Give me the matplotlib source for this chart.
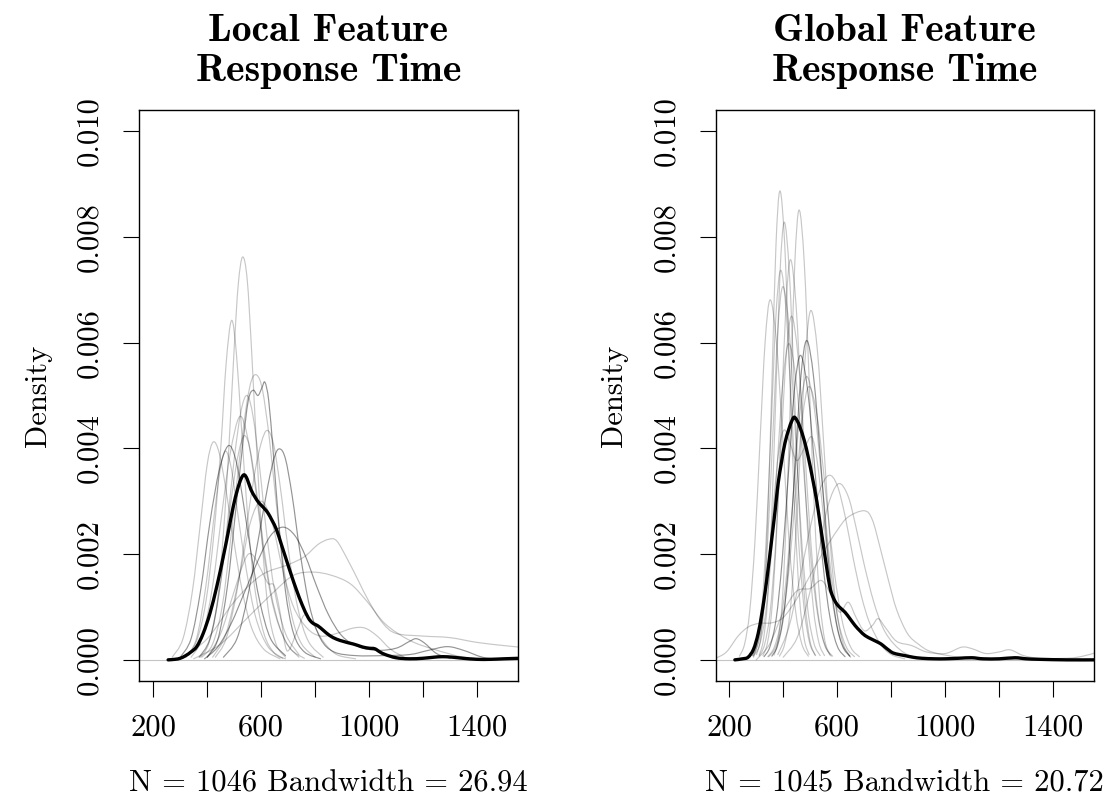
import matplotlib
matplotlib.use("Agg")
import matplotlib.pyplot as plt
from matplotlib.path import Path
from matplotlib.patches import PathPatch
import numpy as np

# ------------------------------------------------------------------
# Axis ticks and labels
# ------------------------------------------------------------------
x_ticks = [200, 400, 600, 800, 1000, 1200, 1400]
x_tick_labels = ["200", "", "600", "", "1000", "", "1400"]
y_ticks = [0.000, 0.002, 0.004, 0.006, 0.008, 0.010]
y_tick_labels = ["0.000", "0.002", "0.004", "0.006", "0.008", "0.010"]

local_title = ["Local Feature", "Response Time"]
global_title = ["Global Feature", "Response Time"]
local_sub = "N = 1046 Bandwidth = 26.94"
global_sub = "N = 1045 Bandwidth = 20.72"

# densities below are given per mille (x 1e-3)
PER_MILLE = 1e-3

# ------------------------------------------------------------------
# Local feature: pooled density (x in ms, density per mille)
# ------------------------------------------------------------------
local_pooled = [(255, 0.0), (280, 0.01), (300, 0.03), (320, 0.08), (340, 0.15),
                (361, 0.25), (385, 0.50), (410, 0.88), (435, 1.38), (459, 1.94),
                (478, 2.42), (496, 2.89), (512, 3.22), (526, 3.43), (537, 3.50),
                (548, 3.42), (562, 3.22), (577, 3.08), (590, 2.98), (601, 2.92),
                (614, 2.85), (626, 2.77), (640, 2.64), (657, 2.46), (675, 2.18),
                (694, 1.88), (712, 1.60), (731, 1.32), (752, 1.04), (774, 0.80),
                (790, 0.70), (811, 0.64), (830, 0.56), (854, 0.46), (880, 0.39),
                (904, 0.35), (925, 0.32), (941, 0.30), (960, 0.27), (978, 0.24),
                (1000, 0.22), (1021, 0.21), (1040, 0.15), (1060, 0.10), (1100, 0.04),
                (1150, 0.02), (1200, 0.03), (1240, 0.05), (1274, 0.06), (1310, 0.05),
                (1348, 0.03), (1400, 0.01), (1450, 0.01), (1500, 0.02), (1560, 0.03)]

# Local feature: individual participant densities
loc_01 = [(375, 0.05), (405, 0.3), (435, 1.0), (460, 2.4), (480, 4.0), (500, 5.9), (515, 7.1),
          (531, 7.62), (548, 7.2), (565, 5.8), (583, 4.0), (603, 2.3), (625, 1.0), (655, 0.3),
          (690, 0.05)]
loc_02 = [(320, 0.05), (360, 0.35), (395, 1.1), (425, 2.4), (450, 4.0), (470, 5.6), (490, 6.42),
          (508, 5.8), (528, 4.3), (550, 2.7), (575, 1.4), (610, 0.5), (650, 0.12), (690, 0.02)]
loc_03 = [(380, 0.05), (420, 0.3), (455, 1.0), (485, 2.2), (515, 3.6), (545, 4.8), (565, 5.3),
          (585, 5.38), (605, 5.1), (630, 4.2), (655, 3.0), (685, 1.7), (715, 0.8), (750, 0.3),
          (800, 0.05)]
loc_04 = [(400, 0.05), (440, 0.4), (475, 1.4), (505, 2.8), (530, 4.0), (552, 4.9), (570, 5.1),
          (588, 5.0), (603, 5.15), (614, 5.25), (628, 4.9), (645, 3.9), (665, 2.6), (690, 1.3),
          (720, 0.5), (760, 0.15), (820, 0.02)]
loc_05 = [(370, 0.05), (410, 0.4), (445, 1.3), (475, 2.6), (500, 3.8), (525, 4.7), (548, 5.0),
          (570, 4.6), (595, 3.6), (620, 2.4), (650, 1.3), (690, 0.5), (740, 0.1)]
loc_06 = [(340, 0.05), (380, 0.4), (420, 1.4), (455, 2.8), (485, 3.9), (520, 4.6), (550, 4.2),
          (580, 3.2), (610, 2.0), (645, 1.0), (690, 0.35), (740, 0.05)]
loc_07 = [(270, 0.05), (310, 0.4), (345, 1.3), (375, 2.6), (400, 3.7), (422, 4.12), (445, 3.9),
          (470, 3.2), (500, 2.2), (530, 1.3), (565, 0.6), (610, 0.2), (670, 0.02)]
loc_08 = [(300, 0.05), (340, 0.4), (375, 1.3), (410, 2.6), (445, 3.6), (478, 4.05), (505, 3.8),
          (530, 3.1), (560, 2.1), (595, 1.1), (635, 0.4), (690, 0.08)]
loc_09 = [(320, 0.05), (360, 0.4), (395, 1.4), (425, 2.7), (448, 3.6), (468, 3.95), (490, 3.6),
          (515, 2.7), (545, 1.7), (580, 0.8), (625, 0.25), (680, 0.03)]
loc_10 = [(430, 0.05), (470, 0.4), (510, 1.3), (545, 2.5), (575, 3.5), (600, 4.1), (622, 4.34),
          (645, 4.1), (670, 3.3), (700, 2.1), (735, 1.0), (775, 0.35), (830, 0.05)]
loc_11 = [(460, 0.05), (510, 0.4), (550, 1.2), (590, 2.3), (625, 3.3), (650, 3.85), (669, 3.99),
          (690, 3.8), (715, 3.1), (745, 2.0), (780, 1.0), (820, 0.4), (870, 0.15), (950, 0.08),
          (1050, 0.08), (1150, 0.1), (1220, 0.18), (1290, 0.25), (1350, 0.18), (1420, 0.05),
          (1480, 0.01)]
loc_12 = [(370, 0.05), (410, 0.4), (445, 1.3), (475, 2.5), (505, 3.6), (525, 4.1), (540, 4.24),
          (558, 4.0), (580, 3.3), (605, 2.3), (635, 1.3), (670, 0.6), (710, 0.2), (760, 0.03)]
loc_13 = [(390, 0.02), (440, 0.25), (490, 0.7), (540, 1.3), (590, 1.9), (635, 2.35), (681, 2.51),
          (725, 2.35), (765, 1.95), (805, 1.4), (850, 0.85), (900, 0.45), (960, 0.25),
          (1030, 0.18), (1100, 0.22), (1150, 0.35), (1175, 0.40), (1205, 0.32), (1250, 0.12),
          (1300, 0.03)]
loc_14 = [(300, 0.02), (400, 0.4), (500, 1.1), (600, 1.6), (700, 1.8), (760, 1.95), (810, 2.18),
          (850, 2.28), (880, 2.25), (920, 1.9), (960, 1.5), (1000, 1.1), (1050, 0.7), (1100, 0.5),
          (1200, 0.45), (1300, 0.42), (1400, 0.33), (1500, 0.27), (1560, 0.24)]
loc_15 = [(350, 0.02), (450, 0.3), (550, 0.8), (650, 1.3), (720, 1.6), (790, 1.66), (860, 1.6),
          (930, 1.44), (990, 1.12), (1060, 0.68), (1150, 0.37), (1240, 0.2), (1350, 0.05),
          (1450, 0.01)]
loc_16 = [(400, 0.05), (450, 0.5), (500, 1.3), (540, 1.9), (565, 2.0), (595, 1.75), (625, 1.45),
          (648, 1.40), (670, 0.9), (690, 0.25), (705, 0.2), (730, 0.5), (760, 0.85), (790, 0.7),
          (830, 0.35), (880, 0.1), (950, 0.02)]
loc_17 = [(420, 0.05), (470, 0.5), (520, 1.6), (560, 2.6), (600, 3.0), (640, 2.6), (680, 1.7),
          (720, 1.0), (770, 0.6), (820, 0.45), (880, 0.5), (940, 0.6), (985, 0.6), (1030, 0.45),
          (1080, 0.2), (1130, 0.05)]

local_subjects = [loc_01, loc_02, loc_03, loc_04, loc_05, loc_06, loc_07, loc_08, loc_09,
                  loc_10, loc_11, loc_12, loc_13, loc_14, loc_15, loc_16, loc_17]
local_darker = [loc_04, loc_08, loc_11, loc_13]

# ------------------------------------------------------------------
# Global feature: pooled density
# ------------------------------------------------------------------
global_pooled = [(221, 0.0), (250, 0.02), (270, 0.05), (290, 0.2), (307, 0.49), (320, 0.85),
                 (332, 1.25), (345, 1.75), (357, 2.26), (370, 2.82), (381, 3.33), (394, 3.75),
                 (406, 4.09), (420, 4.35), (432, 4.52), (441, 4.59), (452, 4.52), (462, 4.40),
                 (478, 4.15), (493, 3.83), (508, 3.45), (524, 3.01), (536, 2.60), (548, 2.19),
                 (560, 1.78), (573, 1.37), (585, 1.18), (598, 1.06), (612, 0.98), (629, 0.90),
                 (647, 0.78), (666, 0.65), (684, 0.55), (703, 0.46), (728, 0.39), (752, 0.33),
                 (765, 0.29), (777, 0.24), (792, 0.18), (807, 0.13), (830, 0.10), (851, 0.08),
                 (880, 0.05), (913, 0.03), (960, 0.02), (1000, 0.02), (1050, 0.03), (1098, 0.04),
                 (1140, 0.02), (1200, 0.02), (1258, 0.04), (1300, 0.02), (1350, 0.01),
                 (1450, 0.0), (1560, 0.0)]

# Global feature: individual participant densities
glob_01 = [(301, 0.10), (316, 0.39), (330, 1.20), (344, 2.88), (359, 5.38), (373, 7.82),
           (388, 8.87), (406, 7.82), (424, 5.38), (442, 2.88), (460, 1.20), (478, 0.39), (496, 0.10)]
glob_02 = [(366, 0.09), (381, 0.37), (397, 1.15), (412, 2.77), (428, 5.17), (443, 7.51),
           (459, 8.51), (478, 7.51), (497, 5.17), (516, 2.77), (535, 1.15), (554, 0.37), (573, 0.09)]
glob_03 = [(311, 0.09), (326, 0.36), (342, 1.12), (357, 2.69), (373, 5.03), (388, 7.30),
           (404, 8.28), (423, 7.30), (442, 5.03), (461, 2.69), (480, 1.12), (499, 0.36), (518, 0.09)]
glob_04 = [(325, 0.08), (342, 0.33), (359, 1.02), (376, 2.46), (393, 4.59), (410, 6.68),
           (427, 7.57), (448, 6.68), (469, 4.59), (490, 2.46), (511, 1.02), (532, 0.33), (553, 0.08)]
glob_05 = [(286, 0.08), (303, 0.32), (321, 0.99), (338, 2.40), (356, 4.47), (373, 6.50),
           (391, 7.37), (412, 6.50), (434, 4.47), (455, 2.40), (477, 0.99), (498, 0.32), (520, 0.08)]
glob_06 = [(288, 0.08), (306, 0.31), (325, 0.95), (343, 2.29), (362, 4.29), (380, 6.23),
           (399, 7.06), (422, 6.23), (445, 4.29), (468, 2.29), (491, 0.95), (514, 0.31), (537, 0.08)]
glob_07 = [(238, 0.07), (257, 0.30), (276, 0.92), (295, 2.21), (314, 4.13), (333, 6.01),
           (352, 6.81), (375, 6.01), (399, 4.13), (422, 2.21), (446, 0.92), (469, 0.30), (493, 0.07)]
glob_08 = [(386, 0.07), (405, 0.29), (425, 0.89), (444, 2.15), (464, 4.01), (483, 5.83),
           (503, 6.61), (527, 5.83), (551, 4.01), (575, 2.15), (599, 0.89), (623, 0.29), (647, 0.07)]
glob_09 = [(311, 0.07), (331, 0.29), (351, 0.88), (371, 2.11), (391, 3.95), (411, 5.73),
           (431, 6.50), (455, 5.73), (480, 3.95), (504, 2.11), (529, 0.88), (553, 0.29), (578, 0.07)]
glob_10 = [(358, 0.07), (379, 0.27), (401, 0.82), (422, 1.96), (444, 3.67), (465, 5.33),
           (487, 6.04), (513, 5.33), (540, 3.67), (566, 1.96), (593, 0.82), (619, 0.27), (646, 0.07)]
glob_11 = [(289, 0.07), (311, 0.26), (333, 0.81), (355, 1.94), (377, 3.63), (399, 5.27),
           (421, 5.98), (448, 5.27), (475, 3.63), (502, 1.94), (529, 0.81), (556, 0.26), (583, 0.07)]
glob_12 = [(329, 0.06), (351, 0.25), (374, 0.78), (396, 1.87), (419, 3.50), (441, 5.08),
           (464, 5.76), (491, 5.08), (519, 3.50), (546, 1.87), (574, 0.78), (601, 0.25), (629, 0.06)]
glob_13 = [(343, 0.06), (367, 0.24), (391, 0.72), (415, 1.74), (439, 3.25), (463, 4.73),
           (487, 5.36), (516, 4.73), (546, 3.25), (575, 1.74), (605, 0.72), (634, 0.24), (664, 0.06)]
glob_14 = [(346, 0.06), (371, 0.23), (396, 0.70), (421, 1.68), (446, 3.14), (471, 4.56),
           (496, 5.17), (527, 4.56), (558, 3.14), (589, 1.68), (620, 0.70), (651, 0.23), (682, 0.06)]
glob_15 = [(290, 0.05), (320, 0.6), (345, 1.8), (365, 3.0), (385, 4.0), (404, 4.35), (425, 4.1),
           (450, 3.77), (478, 4.0), (507, 4.21), (530, 3.6), (555, 2.4), (580, 1.2), (610, 0.4),
           (650, 0.05)]
glob_16 = [(380, 0.1), (420, 0.6), (460, 1.5), (500, 2.5), (535, 3.2), (569, 3.49), (600, 3.3),
           (630, 2.7), (660, 1.9), (690, 1.2), (720, 0.7), (760, 0.3), (800, 0.1), (850, 0.02)]
glob_17 = [(400, 0.05), (450, 0.4), (490, 1.1), (530, 2.0), (565, 2.9), (604, 3.33), (640, 3.1),
           (670, 2.5), (700, 1.8), (735, 1.1), (770, 0.6), (810, 0.3), (860, 0.1), (920, 0.02)]
glob_18 = [(150, 0.03), (190, 0.15), (233, 0.45), (270, 0.62), (310, 0.69), (357, 0.70),
           (400, 0.8), (450, 1.15), (500, 1.6), (550, 2.05), (600, 2.45), (640, 2.7), (700, 2.82),
           (730, 2.65), (760, 2.1), (790, 1.5), (820, 0.95), (860, 0.5), (900, 0.3), (950, 0.15),
           (1050, 0.05), (1150, 0.02), (1300, 0.02), (1450, 0.03), (1510, 0.07), (1560, 0.14)]
glob_19 = [(300, 0.0), (350, 0.3), (400, 0.9), (450, 1.3), (500, 1.35), (542, 1.5), (580, 1.2),
           (610, 0.9), (641, 1.09), (670, 0.8), (700, 0.55), (730, 0.65), (752, 0.78), (780, 0.6),
           (820, 0.35), (876, 0.27), (930, 0.15), (1000, 0.12), (1061, 0.24), (1100, 0.21),
           (1150, 0.12), (1200, 0.15), (1240, 0.19), (1290, 0.08), (1350, 0.02)]

global_subjects = [glob_01, glob_02, glob_03, glob_04, glob_05, glob_06, glob_07, glob_08,
                   glob_09, glob_10, glob_11, glob_12, glob_13, glob_14, glob_15, glob_16,
                   glob_17, glob_18, glob_19]
global_darker = [glob_10, glob_12]

# ------------------------------------------------------------------
# Figure
# ------------------------------------------------------------------
W, H = 1118, 806
fig = plt.figure(figsize=(W / 100, H / 100), dpi=100)
FONT = "cmr10"
FONT_BOLD = "cmb10"


def px_box(left, top, right, bottom):
    return [left / W, 1 - bottom / H, (right - left) / W, (bottom - top) / H]


def smooth_path(pts):
    """Cubic Bezier path through the knots (Catmull-Rom tangents)."""
    p = np.array([(x, y * PER_MILLE) for x, y in pts], dtype=float)
    ext = np.vstack([p[0], p, p[-1]])
    verts = [p[0]]
    codes = [Path.MOVETO]
    for i in range(1, len(ext) - 2):
        p0, p1, p2, p3 = ext[i - 1], ext[i], ext[i + 1], ext[i + 2]
        c1 = p1 + (p2 - p0) / 6.0
        c2 = p2 - (p3 - p1) / 6.0
        verts += [c1, c2, p2]
        codes += [Path.CURVE4] * 3
    return Path(verts, codes)


def draw_curve(ax, pts, **kw):
    ax.add_patch(PathPatch(smooth_path(pts), fill=False, capstyle="round",
                           joinstyle="round", **kw))


def draw_panel(ax, subjects, darker, pooled, title, sub, xlim):
    ax.axhline(0, color="#c4c4c4", lw=0.8, zorder=1)
    for pts in subjects:
        dark = any(pts is d for d in darker)
        draw_curve(ax, pts, edgecolor=(0, 0, 0, 0.42 if dark else 0.22),
                   lw=0.85, zorder=2)
    draw_curve(ax, pooled, edgecolor="black", lw=2.4, zorder=3)

    ax.set_xlim(*xlim)
    ax.set_ylim(-0.0004, 0.0104)
    ax.set_xticks(x_ticks)
    ax.set_xticklabels(x_tick_labels, family=FONT, fontsize=22)
    ax.set_yticks(y_ticks)
    ax.set_yticklabels(y_tick_labels, family=FONT, fontsize=22,
                       rotation=90, va="center")
    ax.tick_params(axis="both", direction="out", length=11.5, width=0.8,
                   color="black")
    ax.tick_params(axis="x", pad=12)
    ax.tick_params(axis="y", pad=14)
    for sp in ax.spines.values():
        sp.set_linewidth(1.0)
        sp.set_color("black")

    pos = ax.get_position()
    cx = (pos.x0 + pos.x1) / 2
    fig.text(cx, 1 - 40.6 / H, title[0], ha="center", va="baseline",
             family=FONT_BOLD, fontsize=28.5)
    fig.text(cx, 1 - 80.8 / H, title[1], ha="center", va="baseline",
             family=FONT_BOLD, fontsize=28.5)
    fig.text(cx, 1 - 791 / H, sub, ha="center", va="baseline",
             family=FONT, fontsize=22)
    fig.text(pos.x0 - 101 / W, (pos.y0 + pos.y1) / 2, "Density", rotation=90,
             ha="center", va="center", family=FONT, fontsize=22)


ax_local = fig.add_axes(px_box(139, 110, 517.7, 681))
ax_global = fig.add_axes(px_box(715.7, 110, 1094, 681))

draw_panel(ax_local, local_subjects, local_darker, local_pooled,
           local_title, local_sub, (147, 1551))
draw_panel(ax_global, global_subjects, global_darker, global_pooled,
           global_title, global_sub, (150, 1551))

fig.savefig("out.png", dpi=100)
